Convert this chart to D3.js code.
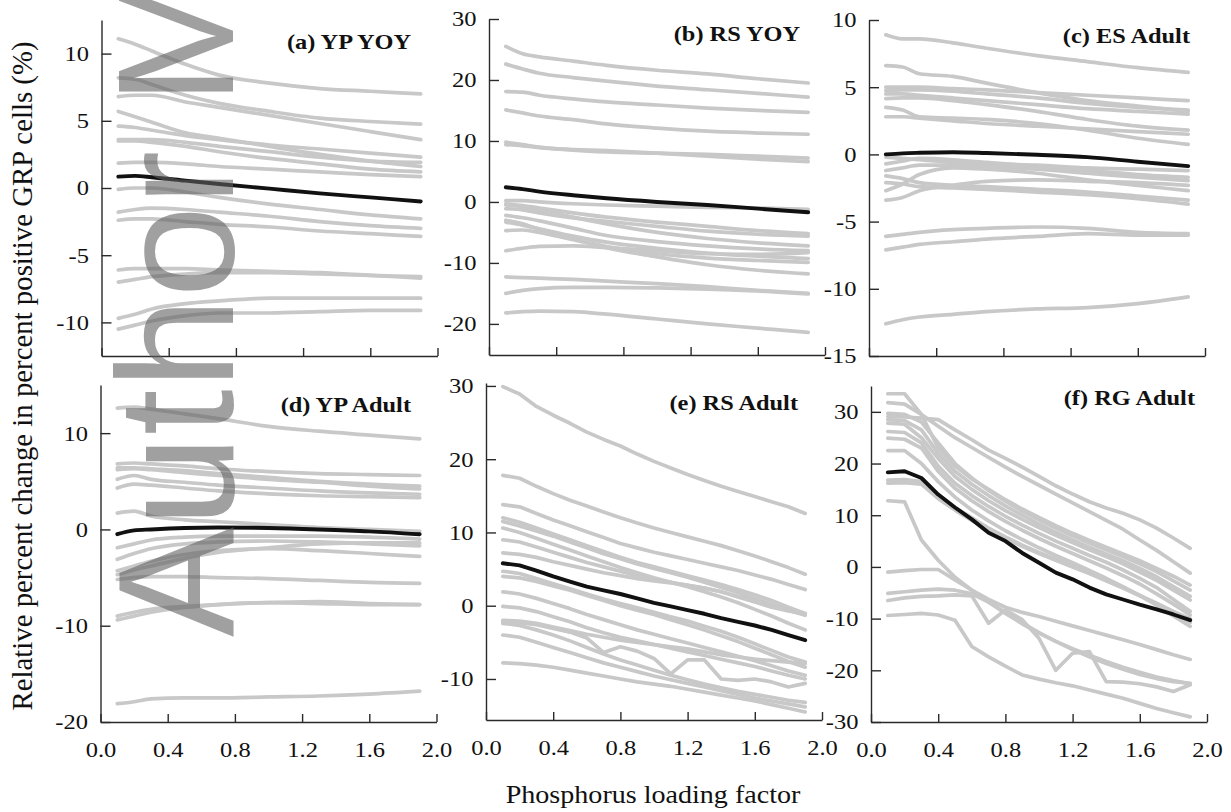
<!DOCTYPE html>
<html>
<head>
<meta charset="utf-8">
<script src="https://cdn.jsdelivr.net/npm/d3@7"></script>
<style>
body { margin: 0; background: #fff; }
</style>
</head>
<body>
<div id="chart"></div>
<script>
var width = 1231;
var height = 812;

// phosphorus loading factor grids
var xsCoarse = [0.1, 0.2, 0.3, 0.5, 0.7, 1.0, 1.3, 1.6, 1.9];
var xsFine = [0.1, 0.2, 0.3, 0.4, 0.5, 0.6, 0.7, 0.8, 0.9, 1.0, 1.1, 1.2, 1.3, 1.4, 1.5, 1.6, 1.7, 1.8, 1.9];
var xTicks = [0, 0.4, 0.8, 1.2, 1.6, 2.0];

// (a) YP YOY
var ypYoyRuns = [
	[11.1, 10.7, 10.2, 9.2, 8.4, 7.8, 7.4, 7.2, 7.0],
	[8.2, 8.1, 7.7, 6.9, 6.3, 5.7, 5.2, 4.95, 4.75],
	[6.8, 6.9, 6.9, 6.4, 6.0, 5.4, 4.8, 4.2, 3.6],
	[5.7, 5.3, 4.9, 4.1, 3.7, 3.1, 2.5, 2.0, 1.6],
	[4.6, 4.5, 4.3, 3.9, 3.6, 3.2, 2.9, 2.6, 2.3],
	[3.6, 3.6, 3.6, 3.4, 3.1, 2.7, 2.3, 2.0, 1.9],
	[3.5, 3.5, 3.4, 3.1, 2.7, 2.2, 1.8, 1.4, 1.2],
	[1.85, 1.9, 1.9, 1.8, 1.6, 1.4, 1.2, 1.0, 0.85],
	[-0.1, 0.0, 0.0, -0.3, -0.7, -1.2, -1.6, -2.0, -2.3],
	[-1.8, -1.6, -1.5, -1.6, -1.8, -2.1, -2.5, -2.8, -3.0],
	[-2.4, -2.3, -2.3, -2.5, -2.7, -2.9, -3.2, -3.4, -3.6],
	[-6.1, -6.0, -6.0, -6.0, -6.1, -6.2, -6.3, -6.5, -6.7],
	[-7.0, -6.8, -6.6, -6.4, -6.3, -6.3, -6.4, -6.5, -6.6],
	[-9.7, -9.4, -9.0, -8.6, -8.4, -8.2, -8.2, -8.2, -8.2],
	[-10.5, -10.2, -9.9, -9.5, -9.3, -9.3, -9.2, -9.1, -9.1]
];
var ypYoyMean = [0.85, 0.9, 0.8, 0.55, 0.3, -0.05, -0.4, -0.7, -1.0];

// (b) RS YOY
var rsYoyRuns = [
	[25.5, 24.3, 23.8, 23.1, 22.4, 21.6, 21.0, 20.2, 19.5],
	[22.6, 21.8, 21.1, 20.4, 19.8, 19.0, 18.4, 17.8, 17.2],
	[18.1, 18.0, 17.5, 16.9, 16.4, 15.9, 15.4, 15.0, 14.7],
	[15.1, 14.6, 14.1, 13.5, 12.8, 12.1, 11.6, 11.3, 11.1],
	[9.8, 9.4, 9.0, 8.5, 8.2, 8.0, 7.8, 7.5, 7.2],
	[9.4, 9.2, 8.9, 8.6, 8.4, 8.0, 7.5, 7.0, 6.6],
	[0.2, 0.2, 0.0, -0.3, -0.5, -0.7, -0.9, -1.0, -1.2],
	[-0.3, -0.6, -1.0, -1.8, -2.5, -3.3, -4.0, -4.7, -5.2],
	[-1.1, -1.3, -1.8, -2.6, -3.2, -4.0, -4.8, -5.3, -5.6],
	[-0.5, -0.8, -1.3, -2.5, -3.6, -5.0, -6.0, -6.7, -7.2],
	[-2.2, -2.6, -3.1, -4.3, -5.5, -6.5, -7.2, -7.7, -8.0],
	[-3.3, -3.8, -4.4, -5.6, -6.6, -7.6, -8.4, -8.9, -9.3],
	[-4.7, -4.6, -5.0, -6.2, -7.3, -8.5, -9.2, -9.6, -9.9],
	[-8.0, -7.6, -7.3, -7.2, -7.5, -8.0, -8.5, -8.6, -8.3],
	[-3.0, -3.6, -4.5, -6.0, -7.5, -9.0, -10.3, -11.2, -11.8],
	[-12.3, -12.4, -12.5, -12.7, -13.0, -13.4, -13.9, -14.5, -15.0],
	[-15.0, -14.5, -14.2, -14.0, -14.0, -14.1, -14.3, -14.6, -15.1],
	[-18.2, -18.0, -17.9, -18.0, -18.4, -19.2, -20.0, -20.7, -21.4]
];
var rsYoyMean = [2.4, 2.1, 1.7, 1.1, 0.6, 0.0, -0.5, -1.1, -1.7];

// (c) ES Adult
var esAdultRuns = [
	[8.9, 8.6, 8.6, 8.3, 7.9, 7.35, 6.9, 6.45, 6.1],
	[6.6, 6.5, 6.0, 5.8, 5.3, 4.6, 4.0, 3.6, 3.2],
	[5.0, 5.0, 5.0, 4.9, 4.8, 4.6, 4.4, 4.2, 4.0],
	[4.75, 4.8, 4.8, 4.7, 4.5, 4.2, 3.8, 3.5, 3.3],
	[4.5, 4.5, 4.4, 4.2, 4.0, 3.7, 3.4, 3.2, 3.0],
	[4.15, 4.2, 4.2, 4.0, 3.7, 3.2, 2.6, 2.1, 1.8],
	[3.5, 3.3, 2.8, 2.7, 2.6, 2.3, 1.8, 1.2, 0.75],
	[2.8, 2.8, 2.7, 2.5, 2.3, 2.1, 1.9, 1.7, 1.5],
	[-0.2, -0.3, -0.4, -0.6, -0.7, -0.8, -1.0, -1.1, -1.2],
	[-0.7, -0.5, -0.3, -0.4, -0.6, -0.9, -1.2, -1.5, -1.7],
	[-1.2, -1.0, -0.8, -0.8, -0.9, -1.1, -1.4, -1.7, -1.95],
	[-2.7, -2.2, -1.5, -1.0, -1.1, -1.4, -1.9, -2.3, -2.7],
	[-1.6, -1.8, -2.1, -2.3, -2.4, -2.6, -2.8, -3.1, -3.4],
	[-2.1, -2.2, -2.4, -2.5, -2.6, -2.8, -3.0, -3.3, -3.7],
	[-3.4, -3.2, -2.7, -2.3, -2.0, -1.9, -2.0, -2.1, -2.3],
	[-6.1, -5.95, -5.8, -5.6, -5.5, -5.4, -5.5, -5.8, -5.9],
	[-7.1, -6.9, -6.7, -6.5, -6.3, -6.1, -5.9, -6.0, -6.0],
	[-12.6, -12.3, -12.1, -11.9, -11.7, -11.5, -11.4, -11.1, -10.6]
];
var esAdultMean = [0.0, 0.08, 0.12, 0.16, 0.1, -0.03, -0.2, -0.55, -0.87];

// (d) YP Adult
var ypAdultRuns = [
	[12.6, 12.7, 12.5, 12.0, 11.5, 10.7, 10.2, 9.8, 9.4],
	[6.8, 6.9, 6.8, 6.6, 6.3, 6.0, 5.8, 5.7, 5.6],
	[6.4, 6.4, 6.3, 6.1, 5.8, 5.4, 5.0, 4.7, 4.5],
	[6.2, 6.3, 6.2, 5.9, 5.6, 5.2, 4.9, 4.5, 4.2],
	[5.2, 5.6, 5.2, 4.9, 4.6, 4.3, 4.0, 3.8, 3.65],
	[4.3, 4.7, 4.6, 4.3, 4.0, 3.7, 3.5, 3.4, 3.3],
	[1.7, 1.9, 1.4, 1.0, 0.8, 0.5, 0.2, 0.0, -0.2],
	[-1.9, -1.5, -1.1, -0.8, -0.7, -0.7, -0.7, -0.8, -1.0],
	[-3.1, -2.5, -2.0, -1.5, -1.3, -1.2, -1.3, -1.5, -1.7],
	[-4.3, -3.8, -3.3, -2.6, -2.2, -2.0, -2.2, -2.5, -2.8],
	[-4.7, -4.2, -3.8, -3.0, -2.4, -1.9, -1.5, -1.4, -1.4],
	[-5.2, -5.0, -4.9, -4.9, -5.0, -5.1, -5.3, -5.5, -5.6],
	[-9.0, -8.6, -8.3, -8.0, -7.8, -7.6, -7.7, -7.8, -7.8],
	[-9.4, -9.0, -8.6, -8.1, -7.8, -7.6, -7.5, -7.7, -7.8],
	[-18.1, -17.9, -17.6, -17.5, -17.5, -17.4, -17.3, -17.1, -16.8]
];
var ypAdultMean = [-0.5, -0.1, 0.0, 0.15, 0.2, 0.15, 0.0, -0.2, -0.5];

// (e) RS Adult
var rsAdultRuns = [
	[29.9, 28.9, 27.2, 26.0, 24.9, 23.7, 22.7, 21.8, 20.7, 19.7, 18.8, 17.9, 17.1, 16.3, 15.6, 14.9, 14.2, 13.5, 12.6],
	[17.8, 17.4, 16.3, 15.3, 14.4, 13.6, 12.8, 12.0, 11.3, 10.6, 10.0, 9.4, 8.8, 8.2, 7.5, 6.8, 6.0, 5.2, 4.3],
	[13.8, 13.5, 12.6, 11.7, 10.9, 10.1, 9.3, 8.5, 7.9, 7.3, 6.8, 6.3, 5.8, 5.3, 4.8, 4.2, 3.6, 2.9, 2.2],
	[12.0, 11.4, 10.6, 9.8, 9.0, 8.2, 7.4, 6.6, 5.9, 5.3, 4.7, 4.1, 3.5, 2.9, 2.2, 1.5, 0.7, -0.2, -1.05],
	[11.5, 10.9, 10.2, 9.5, 8.7, 7.9, 7.1, 6.4, 5.7, 5.1, 4.5, 3.9, 3.2, 2.5, 1.8, 1.0, 0.2, -0.6, -1.3],
	[10.6, 10.0, 9.2, 8.4, 7.6, 6.8, 6.0, 5.2, 4.5, 3.8, 3.2, 2.6, 1.9, 1.2, 0.4, -0.5, -1.4, -2.4, -3.3],
	[9.0, 8.7, 8.0, 7.3, 6.6, 5.9, 5.3, 4.7, 4.1, 3.6, 3.2, 2.8, 2.4, 1.9, 1.3, 0.7, 0.0, -0.6, -1.2],
	[7.2, 7.0, 6.6, 6.0, 5.5, 5.0, 4.5, 4.1, 3.7, 3.4, 3.1, 2.8, 2.4, 1.9, 1.2, 0.5, -0.2, -0.7, -1.1],
	[4.7, 4.4, 3.7, 3.0, 2.3, 1.6, 0.9, 0.3, -0.3, -0.9, -1.5, -2.1, -2.8, -3.5, -4.3, -5.2, -6.1, -7.0, -7.7],
	[4.0, 3.8, 3.3, 2.7, 2.1, 1.4, 0.7, 0.0, -0.6, -1.2, -1.9, -2.6, -3.3, -4.1, -4.9, -5.8, -6.7, -7.6, -8.4],
	[1.9, 1.6, 1.0, 0.3, -0.4, -1.2, -1.9, -2.6, -3.3, -3.9, -4.5, -5.1, -5.7, -6.3, -6.9, -7.5, -8.2, -8.9, -9.5],
	[-0.1, -0.3, -0.8, -1.5, -2.2, -3.0, -3.7, -4.3, -4.8, -5.3, -5.8, -6.3, -6.8, -7.3, -7.8, -8.3, -8.9, -9.5, -10.0],
	[-2.2, -2.3, -2.6, -3.1, -3.6, -4.4, -6.4, -5.6, -6.2, -7.2, -9.3, -7.4, -7.4, -10.0, -10.2, -10.0, -10.4, -11.1, -10.6],
	[-2.0, -2.1, -2.4, -2.9, -3.4, -3.9, -4.3, -4.7, -5.0, -5.3, -5.6, -5.9, -6.3, -6.7, -7.0, -7.3, -7.5, -7.7, -7.9],
	[-2.4, -2.7, -3.3, -4.0, -4.8, -5.7, -6.6, -7.4, -8.1, -8.8, -9.5, -10.1, -10.7, -11.2, -11.7, -12.1, -12.5, -12.9, -13.2],
	[-4.0, -4.3, -5.0, -5.7, -6.4, -7.1, -7.8, -8.4, -9.0, -9.6, -10.1, -10.6, -11.1, -11.6, -12.1, -12.6, -13.0, -13.4, -13.8],
	[-7.8, -7.9, -8.1, -8.4, -8.8, -9.2, -9.6, -10.0, -10.4, -10.7, -11.0, -11.4, -11.8, -12.2, -12.6, -13.0, -13.5, -14.0, -14.5]
];
var rsAdultMean = [5.8, 5.5, 4.8, 4.0, 3.3, 2.6, 2.1, 1.6, 1.0, 0.4, -0.1, -0.6, -1.1, -1.7, -2.2, -2.7, -3.3, -4.0, -4.7];

// (f) RG Adult
var rgAdultRuns = [
	[29.1, 29.0, 28.8, 28.5, 26.5, 24.6, 22.6, 21.0, 19.3, 17.5, 15.7, 14.1, 12.6, 11.4, 10.4, 9.1, 7.5, 5.6, 3.6],
	[31.8, 31.5, 29.5, 27.2, 25.0, 23.1, 21.2, 19.3, 17.5, 15.8, 14.1, 12.4, 10.7, 9.0, 7.3, 5.2, 3.2, 1.0, -1.2],
	[33.5, 33.5, 29.5, 23.0, 19.5, 17.0, 15.0, 13.0, 11.2, 9.6, 8.0, 6.5, 5.1, 3.8, 2.5, 1.2, -0.3, -1.8, -3.5],
	[29.7, 29.5, 28.0, 24.0, 20.0, 17.2, 14.8, 12.7, 10.8, 9.1, 7.5, 6.0, 4.6, 3.3, 2.0, 0.6, -0.9, -2.7, -4.5],
	[28.5, 28.3, 26.5, 22.0, 18.5, 16.0, 13.8, 11.8, 10.0, 8.3, 6.7, 5.2, 3.8, 2.5, 1.2, -0.3, -1.9, -3.8, -5.7],
	[27.8, 27.6, 25.0, 21.0, 17.5, 15.0, 12.8, 10.9, 9.2, 7.6, 6.1, 4.7, 3.3, 2.0, 0.6, -1.0, -2.6, -4.5, -6.4],
	[26.2, 26.0, 24.0, 19.5, 16.2, 13.8, 11.7, 9.8, 8.1, 6.5, 5.0, 3.6, 2.2, 0.9, -0.6, -2.2, -4.0, -6.3, -8.6],
	[24.9, 24.7, 23.0, 18.5, 15.2, 12.8, 10.7, 8.8, 7.1, 5.5, 4.0, 2.6, 1.2, -0.2, -1.7, -3.3, -5.2, -7.2, -9.3],
	[22.5, 22.5, 20.0, 16.5, 13.5, 11.0, 8.9, 7.0, 5.3, 3.7, 2.2, 0.8, -0.7, -2.2, -3.8, -5.5, -7.4, -9.5, -11.5],
	[16.8, 16.9, 16.5, 14.0, 11.5, 9.5, 7.5, 5.8, 4.2, 2.8, 1.5, 0.2, -1.2, -2.6, -4.0, -5.5, -7.0, -8.6, -10.0],
	[16.2, 16.3, 16.0, 13.2, 11.0, 9.0, 7.2, 5.5, 4.0, 2.6, 1.3, 0.0, -1.3, -2.7, -4.1, -5.6, -7.2, -8.9, -10.7],
	[12.8, 12.6, 5.2, 1.3, -2.0, -4.5, -6.8, -9.0, -11.0, -12.8, -14.4, -15.8, -17.1, -18.3, -19.4, -20.4, -21.3, -22.0, -22.6],
	[-1.0, -0.7, -0.5, -0.5, -2.5, -4.5, -6.3, -7.8, -8.8, -9.6, -10.5, -11.4, -12.3, -13.2, -14.1, -15.0, -16.0, -17.0, -17.9],
	[-5.1, -4.8, -4.5, -4.3, -4.5, -5.2, -6.8, -8.8, -10.8, -12.7, -14.4, -16.0, -17.4, -18.7, -19.8, -20.8, -21.6, -22.2, -22.5],
	[-6.5, -6.0, -5.7, -5.6, -5.4, -5.6, -10.9, -8.3, -10.2, -13.8, -20.0, -16.7, -16.4, -22.2, -22.3, -22.6, -23.2, -24.1, -22.8],
	[-9.4, -9.2, -9.0, -9.3, -10.3, -15.4, -17.4, -19.2, -20.9, -21.7, -22.4, -23.0, -23.8, -24.6, -25.4, -26.4, -27.4, -28.2, -29.0]
];
var rgAdultMean = [18.3, 18.5, 17.2, 14.0, 11.5, 9.2, 6.6, 5.0, 2.7, 0.8, -1.1, -2.4, -4.0, -5.3, -6.3, -7.3, -8.2, -9.2, -10.3];

var panels = [
	{title: "(a) YP YOY", xs: xsCoarse, runs: ypYoyRuns, mean: ypYoyMean, yDomain: [-12.5, 12.5], yTicks: [-10, -5, 0, 5, 10]},
	{title: "(b) RS YOY", xs: xsCoarse, runs: rsYoyRuns, mean: rsYoyMean, yDomain: [-25.1, 30], yTicks: [-20, -10, 0, 10, 20, 30]},
	{title: "(c) ES Adult", xs: xsCoarse, runs: esAdultRuns, mean: esAdultMean, yDomain: [-15, 10], yTicks: [-15, -10, -5, 0, 5, 10]},
	{title: "(d) YP Adult", xs: xsCoarse, runs: ypAdultRuns, mean: ypAdultMean, yDomain: [-20, 15], yTicks: [-20, -10, 0, 10]},
	{title: "(e) RS Adult", xs: xsFine, runs: rsAdultRuns, mean: rsAdultMean, yDomain: [-15.6, 30.4], yTicks: [-10, 0, 10, 20, 30]},
	{title: "(f) RG Adult", xs: xsFine, runs: rgAdultRuns, mean: rgAdultMean, yDomain: [-30, 35], yTicks: [-30, -20, -10, 0, 10, 20, 30]}
];

// where each panel sits on the page
var layout = [
	{left: 101.5, top: 20, bottom: 356, titleX: 411, titleY: 49, labels: false},
	{left: 489, top: 19, bottom: 355, titleX: 800, titleY: 41, labels: false},
	{left: 869, top: 20, bottom: 356, titleX: 1190, titleY: 43, labels: false},
	{left: 100.5, top: 385, bottom: 722, titleX: 411, titleY: 412, labels: true},
	{left: 486, top: 383, bottom: 720, titleX: 798, titleY: 410, labels: true},
	{left: 871, top: 386, bottom: 722, titleX: 1195, titleY: 405, labels: true}
];
var panelWidth = 336;
var serif = "'Liberation Serif', 'Times New Roman', Times, serif";

var svg = d3.select("#chart")
	.append("svg")
	.attr("width", width)
	.attr("height", height)
	.style("background", "#fff");

panels.forEach(function(p, i){
	var L = layout[i];
	var x = d3.scaleLinear().domain([0, 2]).range([L.left, L.left + panelWidth]);
	var y = d3.scaleLinear().domain(p.yDomain).range([L.bottom, L.top]);

	var line = d3.line()
		.x(function(d, j){ return x(p.xs[j]); })
		.y(function(d){ return y(d); })
		.curve(p.xs.length > 10 ? d3.curveLinear : d3.curveMonotoneX);

	var G = svg.append("g").attr("class", "panel");

	G.selectAll("path.run")
		.data(p.runs)
		.enter()
		.append("path")
		.attr("class", "run")
		.attr("d", line)
		.attr("fill", "none")
		.attr("stroke", "#c8c8c8")
		.attr("stroke-width", 3.7)
		.attr("stroke-linejoin", "round")
		.attr("stroke-linecap", "round");

	G.append("path")
		.datum(p.mean)
		.attr("d", line)
		.attr("fill", "none")
		.attr("stroke", "#111")
		.attr("stroke-width", 3.9)
		.attr("stroke-linejoin", "round")
		.attr("stroke-linecap", "round");

	// inward ticks, R style
	var yAxis = d3.axisLeft(y)
		.tickValues(p.yTicks)
		.tickSizeInner(-10)
		.tickSizeOuter(0)
		.tickPadding(11)
		.tickFormat(function(d){ return String(d); });

	var ya = G.append("g")
		.attr("transform", "translate(" + L.left + ",0)")
		.call(yAxis)
		.attr("font-family", serif)
		.attr("font-size", 21.5);

	var xAxis = d3.axisBottom(x)
		.tickValues(xTicks)
		.tickSizeInner(-8)
		.tickSizeOuter(0)
		.tickPadding(20)
		.tickFormat(function(d){ return L.labels ? d.toFixed(1) : ""; });

	var xa = G.append("g")
		.attr("transform", "translate(0," + L.bottom + ")")
		.call(xAxis)
		.attr("font-family", serif)
		.attr("font-size", 21.5);

	[ya, xa].forEach(function(a){
		a.select(".domain").attr("stroke", "#2a2a2a").attr("stroke-width", 1.4);
		a.selectAll(".tick line").attr("stroke", "#2a2a2a").attr("stroke-width", 1.4);
		a.selectAll(".tick text").attr("fill", "#111").attr("transform", "scale(1.14,1)");
	});

	G.append("text")
		.attr("transform", "translate(" + L.titleX + "," + L.titleY + ") scale(1.16,1)")
		.attr("text-anchor", "end")
		.attr("font-family", serif)
		.attr("font-weight", "bold")
		.attr("font-size", 21)
		.attr("fill", "#111")
		.text(p.title);
});

svg.append("text")
	.attr("transform", "translate(32,376) rotate(-90)")
	.attr("text-anchor", "middle")
	.attr("font-family", serif)
	.attr("font-size", 28.8)
	.attr("fill", "#111")
	.text("Relative percent change in percent positive GRP cells (%)");

svg.append("text")
	.attr("transform", "translate(653,803) scale(1.08,1)")
	.attr("text-anchor", "middle")
	.attr("font-family", serif)
	.attr("font-size", 26)
	.attr("fill", "#111")
	.text("Phosphorus loading factor");

// manuscript watermark, running off the top edge as in the source
svg.append("text")
	.attr("transform", "translate(233,637) rotate(-90)")
	.attr("font-family", "'Liberation Sans', Arial, sans-serif")
	.attr("font-size", 165)
	.attr("fill", "#606060")
	.attr("fill-opacity", 0.6)
	.text("Author Manuscript");
</script>
</body>
</html>
